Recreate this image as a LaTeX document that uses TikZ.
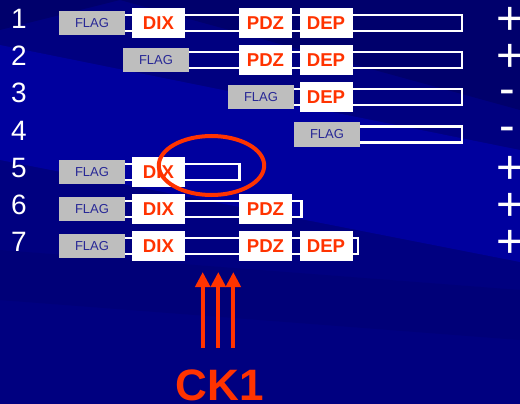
\documentclass[tikz,border=0pt]{standalone}
\usepackage{fontspec}
\setmainfont{Liberation Sans}
\usetikzlibrary{arrows.meta}
\definecolor{bgbase}{RGB}{0,0,128}
\definecolor{bgdark}{RGB}{0,0,108}
\definecolor{bglight}{RGB}{0,0,158}
\definecolor{bgmid}{RGB}{0,0,120}
\definecolor{redor}{RGB}{255,51,0}
\definecolor{flaggray}{RGB}{190,190,190}
\definecolor{flagtext}{RGB}{40,40,150}
\tikzset{
  flagbox/.style={fill=flaggray, minimum width=66pt, minimum height=24pt, inner sep=0pt,
    text=flagtext, font=\fontsize{13}{13}\selectfont},
  dombox/.style={fill=white, minimum width=53pt, minimum height=30pt, inner sep=0pt,
    text=redor, font=\fontsize{18.6}{18.6}\selectfont\bfseries},
  barline/.style={draw=white, line width=2.5pt},
  rownum/.style={anchor=base, inner sep=0pt, text=white, font=\fontsize{28}{28}\selectfont},
  signtxt/.style={anchor=base west, inner sep=0pt, text=white, font=\fontsize{47}{47}\selectfont},
  ckarrow/.style={draw=redor, line width=4pt, -{Triangle[length=15pt,width=14.5pt]}},
  ring/.style={draw=redor, line width=4pt}
}
\begin{document}
\begin{tikzpicture}[x=1pt,y=-1pt]
% background
\fill[bgbase] (0,0) rectangle (520,404);
\fill[bgdark] (120,0) -- (520,0) -- (520,110) -- cycle;
\fill[bgdark] (0,0) -- (120,0) -- (0,30) -- cycle;
\fill[bglight] (0,45) -- (520,150) -- (520,262) -- (0,160) -- cycle;
\fill[bgmid] (0,250) -- (520,290) -- (520,340) -- (0,300) -- cycle;
\useasboundingbox (0,0) rectangle (520,404);

% bars (behind boxes)
\draw[barline] (92,15) rectangle (461.8,31);
\draw[barline] (156,52) rectangle (461.8,68);
\draw[barline] (261,89) rectangle (461.8,105);
\draw[barline] (327,126.5) rectangle (461.8,142.5);
\draw[barline] (92,164) rectangle (239.5,180);
\draw[barline] (92,201) rectangle (301.5,217);
\draw[barline] (92,238) rectangle (357.8,254);

% row 1
\node[flagbox] (f1) at (92,23) {FLAG};
\node[dombox] (dix1) at (158.5,23) {DIX};
\node[dombox] (pdz1) at (265.5,23) {PDZ};
\node[dombox] (dep1) at (326,23) {DEP};
% row 2
\node[flagbox] (f2) at (156,60) {FLAG};
\node[dombox] (pdz2) at (265.5,60) {PDZ};
\node[dombox] (dep2) at (326,60) {DEP};
% row 3
\node[flagbox] (f3) at (261,97) {FLAG};
\node[dombox] (dep3) at (326,97) {DEP};
% row 4
\node[flagbox] (f4) at (327,134.5) {FLAG};
% row 5
\node[flagbox] (f5) at (92,172) {FLAG};
\node[dombox] (dix5) at (158.5,172) {DIX};
% row 6
\node[flagbox] (f6) at (92,209) {FLAG};
\node[dombox] (dix6) at (158.5,209) {DIX};
\node[dombox] (pdz6) at (265.5,209) {PDZ};
% row 7
\node[flagbox] (f7) at (92,246) {FLAG};
\node[dombox] (dix7) at (158.5,246) {DIX};
\node[dombox] (pdz7) at (265.5,246) {PDZ};
\node[dombox] (dep7) at (326,246) {DEP};

% row numbers
\node[rownum] (n1) at (19,28.5) {1};
\node[rownum] (n2) at (19,65.5) {2};
\node[rownum] (n3) at (19,102.5) {3};
\node[rownum] (n4) at (19,140) {4};
\node[rownum] (n5) at (19,177.5) {5};
\node[rownum] (n6) at (19,214.5) {6};
\node[rownum] (n7) at (19,251.5) {7};

% signs
\node[signtxt] (s1) at (496,34.5) {+};
\node[signtxt] (s2) at (496,71.5) {+};
\node[signtxt] (s3) at (499.7,104.3) {-};
\node[signtxt] (s4) at (499.7,141.8) {-};
\node[signtxt] (s5) at (496,183.5) {+};
\node[signtxt] (s6) at (496,220.5) {+};
\node[signtxt] (s7) at (496,257.5) {+};

% ring
\draw[ring] (211.5,165.5) ellipse [x radius=52.7, y radius=29.5];

% arrows and label
\coordinate (a1s) at (202.7,348);
\coordinate (a1e) at (202.7,272);
\coordinate (a2s) at (218.3,348);
\coordinate (a2e) at (218.3,272);
\coordinate (a3s) at (233.3,348);
\coordinate (a3e) at (233.3,272);
\draw[ckarrow] (a1s) -- (a1e);
\draw[ckarrow] (a2s) -- (a2e);
\draw[ckarrow] (a3s) -- (a3e);
\node[anchor=base, inner sep=0pt, text=redor, font=\fontsize{44}{44}\selectfont\bfseries] (ck) at (220,400) {CK1};
\end{tikzpicture}
\end{document}
